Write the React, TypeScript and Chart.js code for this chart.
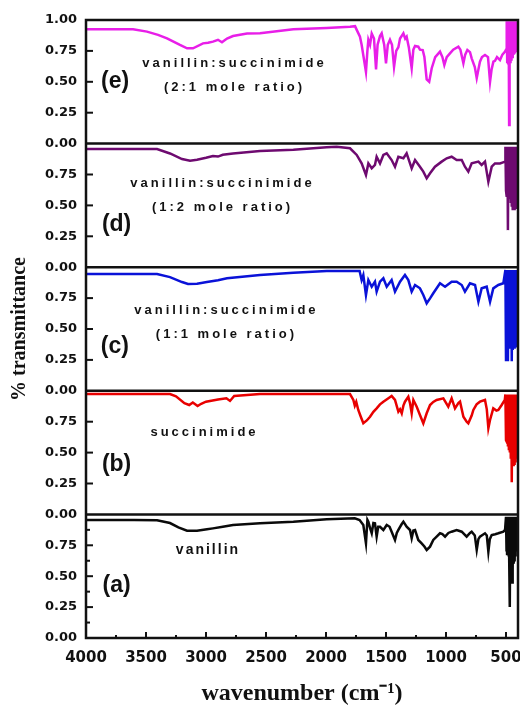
import React, { useEffect, useRef } from "react";
import { Chart, registerables } from "chart.js";

Chart.register(...registerables);

// FTIR spectra, [wavenumber (cm-1), transmittance] pairs, one panel per sample (bottom to top)
const vanillin: [number, number][] = [
  [4000, 0.955], [3600, 0.955], [3408, 0.952], [3300, 0.93], [3230, 0.895], [3158, 0.868], [3075, 0.868],
  [2992, 0.88], [2942, 0.887], [2860, 0.9], [2775, 0.914], [2550, 0.928], [2272, 0.941], [1994, 0.96],
  [1760, 0.968], [1720, 0.955], [1689, 0.914], [1667, 0.766], [1655, 0.955], [1647, 0.94], [1630, 0.88],
  [1619, 0.847], [1605, 0.93], [1592, 0.928], [1578, 0.82], [1565, 0.9], [1550, 0.9], [1522, 0.874],
  [1494, 0.914], [1470, 0.9], [1453, 0.86], [1425, 0.793], [1410, 0.85], [1397, 0.874], [1370, 0.92],
  [1355, 0.941], [1328, 0.9], [1300, 0.874], [1286, 0.807], [1272, 0.87], [1258, 0.874], [1231, 0.793],
  [1203, 0.766], [1180, 0.74], [1161, 0.712], [1133, 0.739], [1106, 0.793], [1078, 0.82], [1050, 0.847],
  [1030, 0.84], [1008, 0.82], [980, 0.85], [953, 0.86], [911, 0.874], [869, 0.86], [828, 0.82], [800, 0.85],
  [786, 0.86], [760, 0.83], [744, 0.712], [730, 0.8], [717, 0.82], [675, 0.847], [660, 0.83], [647, 0.698],
  [635, 0.8], [619, 0.833], [590, 0.84], [564, 0.847], [522, 0.86], [508, 0.874],
  [500, 0.98], [497, 0.7], [494, 0.98], [491, 0.68], [488, 0.98], [485, 0.69], [482, 0.98], [479, 0.66],
  [476, 0.98], [473, 0.6], [470, 0.98], [467, 0.25], [464, 0.98], [461, 0.47], [458, 0.98], [455, 0.5],
  [452, 0.98], [449, 0.45], [446, 0.98], [443, 0.55], [440, 0.98], [436, 0.6], [432, 0.98], [428, 0.62],
  [424, 0.98], [420, 0.66], [416, 0.98], [412, 0.7], [408, 0.98], [404, 0.72], [400, 0.98],
];

const succinimide: [number, number][] = [
  [4000, 0.974], [3300, 0.974], [3250, 0.955], [3180, 0.9], [3140, 0.885], [3110, 0.905], [3070, 0.877],
  [3040, 0.895], [3000, 0.912], [2900, 0.93], [2830, 0.939], [2800, 0.918], [2765, 0.958], [2550, 0.974],
  [1800, 0.974], [1772, 0.926], [1760, 0.88], [1748, 0.91], [1731, 0.845], [1710, 0.79], [1689, 0.737],
  [1660, 0.76], [1633, 0.79], [1605, 0.83], [1578, 0.858], [1550, 0.89], [1522, 0.912], [1480, 0.94],
  [1453, 0.958], [1425, 0.926], [1397, 0.831], [1383, 0.85], [1369, 0.818], [1355, 0.88], [1342, 0.912],
  [1314, 0.952], [1300, 0.9], [1286, 0.818], [1272, 0.926], [1244, 0.871], [1217, 0.804], [1189, 0.737],
  [1161, 0.818], [1133, 0.885], [1106, 0.91], [1078, 0.926], [1022, 0.939], [981, 0.871], [953, 0.939],
  [925, 0.858], [897, 0.9], [883, 0.912], [855, 0.79], [828, 0.75], [814, 0.737], [786, 0.8], [772, 0.845],
  [745, 0.89], [717, 0.912], [675, 0.926], [660, 0.85], [647, 0.697], [633, 0.764], [606, 0.858],
  [580, 0.84], [564, 0.845], [536, 0.885], [510, 0.926],
  [505, 0.97], [500, 0.6], [496, 0.97], [492, 0.588], [488, 0.97], [484, 0.55], [480, 0.97], [476, 0.52],
  [472, 0.97], [468, 0.5], [464, 0.97], [460, 0.45], [456, 0.97], [452, 0.26], [448, 0.97], [444, 0.4],
  [440, 0.97], [436, 0.39], [432, 0.97], [428, 0.4], [424, 0.97], [420, 0.42], [416, 0.97], [412, 0.45],
  [408, 0.97], [404, 0.48], [400, 0.97],
];

const ratio11: [number, number][] = [
  [4000, 0.945], [3408, 0.945], [3300, 0.92], [3200, 0.88], [3150, 0.864], [3075, 0.866], [2992, 0.88],
  [2900, 0.895], [2825, 0.91], [2550, 0.937], [2272, 0.956], [1994, 0.969], [1720, 0.969], [1703, 0.896],
  [1689, 0.937], [1667, 0.775], [1647, 0.896], [1619, 0.842], [1592, 0.883], [1578, 0.802], [1550, 0.883],
  [1522, 0.91], [1494, 0.842], [1453, 0.896], [1425, 0.802], [1383, 0.883], [1342, 0.937], [1314, 0.896],
  [1286, 0.802], [1258, 0.856], [1217, 0.829], [1189, 0.775], [1161, 0.708], [1133, 0.748], [1106, 0.789],
  [1050, 0.87], [1008, 0.842], [953, 0.883], [911, 0.883], [869, 0.856], [842, 0.802], [800, 0.87],
  [758, 0.856], [730, 0.721], [703, 0.829], [661, 0.842], [633, 0.721], [606, 0.829], [564, 0.856],
  [522, 0.87],
  [505, 0.977], [500, 0.25], [496, 0.977], [492, 0.4], [488, 0.977], [484, 0.24], [480, 0.977], [476, 0.36],
  [472, 0.977], [468, 0.34], [464, 0.977], [460, 0.36], [456, 0.977], [452, 0.24], [448, 0.977], [444, 0.33],
  [440, 0.977], [436, 0.35], [432, 0.977], [428, 0.34], [424, 0.977], [420, 0.36], [416, 0.977], [412, 0.35],
  [408, 0.977], [404, 0.38], [400, 0.977],
];

const ratio12: [number, number][] = [
  [4000, 0.956], [3408, 0.956], [3300, 0.92], [3200, 0.875], [3133, 0.862], [3075, 0.87], [3000, 0.885],
  [2942, 0.9], [2900, 0.895], [2860, 0.91], [2775, 0.92], [2550, 0.94], [2272, 0.95], [1994, 0.97],
  [1911, 0.975], [1800, 0.962], [1744, 0.908], [1703, 0.84], [1667, 0.746], [1647, 0.84], [1619, 0.8],
  [1592, 0.827], [1578, 0.894], [1550, 0.84], [1522, 0.908], [1494, 0.921], [1453, 0.867], [1425, 0.813],
  [1397, 0.894], [1355, 0.881], [1328, 0.921], [1300, 0.84], [1286, 0.8], [1258, 0.867], [1217, 0.813],
  [1189, 0.773], [1161, 0.719], [1133, 0.76], [1092, 0.813], [1036, 0.854], [994, 0.881], [953, 0.894],
  [911, 0.867], [869, 0.867], [842, 0.813], [814, 0.773], [786, 0.84], [730, 0.854], [703, 0.827],
  [675, 0.854], [647, 0.692], [619, 0.813], [592, 0.84], [550, 0.84], [508, 0.854],
  [505, 0.975], [500, 0.62], [496, 0.975], [492, 0.57], [488, 0.975], [484, 0.3], [480, 0.975], [476, 0.56],
  [472, 0.975], [468, 0.55], [464, 0.975], [460, 0.52], [456, 0.975], [452, 0.49], [448, 0.975], [444, 0.46],
  [440, 0.975], [436, 0.47], [432, 0.975], [428, 0.46], [424, 0.975], [420, 0.48], [416, 0.975], [412, 0.47],
  [408, 0.975], [404, 0.5], [400, 0.975],
];

const ratio21: [number, number][] = [
  [4000, 0.925], [3608, 0.925], [3492, 0.906], [3400, 0.88], [3325, 0.852], [3217, 0.798], [3158, 0.771],
  [3108, 0.771], [3025, 0.811], [2983, 0.816], [2942, 0.825], [2900, 0.84], [2867, 0.82], [2825, 0.85],
  [2775, 0.87], [2658, 0.89], [2550, 0.892], [2272, 0.925], [1994, 0.935], [1800, 0.946], [1758, 0.95],
  [1744, 0.92], [1717, 0.865], [1703, 0.8], [1667, 0.58], [1655, 0.75], [1647, 0.84], [1633, 0.8],
  [1619, 0.89], [1600, 0.85], [1583, 0.6], [1570, 0.8], [1550, 0.87], [1536, 0.892], [1515, 0.8],
  [1500, 0.65], [1485, 0.8], [1467, 0.84], [1450, 0.8], [1433, 0.62], [1415, 0.75], [1397, 0.78],
  [1383, 0.85], [1355, 0.892], [1340, 0.85], [1328, 0.865], [1310, 0.78], [1286, 0.61], [1272, 0.76],
  [1258, 0.79], [1231, 0.784], [1217, 0.76], [1194, 0.757], [1180, 0.7], [1161, 0.52], [1140, 0.5],
  [1119, 0.61], [1090, 0.7], [1050, 0.744], [1030, 0.7], [1014, 0.636], [994, 0.7], [967, 0.73],
  [940, 0.76], [897, 0.784], [880, 0.76], [855, 0.65], [840, 0.72], [822, 0.757], [800, 0.74], [786, 0.69],
  [760, 0.62], [744, 0.53], [730, 0.6], [717, 0.663], [700, 0.7], [675, 0.717], [650, 0.7], [633, 0.5],
  [620, 0.6], [605, 0.663], [592, 0.67], [575, 0.7], [550, 0.676], [530, 0.72], [508, 0.744],
  [500, 0.76], [494, 0.99], [490, 0.66], [486, 0.99], [482, 0.65], [478, 0.99], [474, 0.15], [470, 0.99],
  [466, 0.66], [462, 0.99], [458, 0.68], [454, 0.99], [450, 0.7], [446, 0.99], [442, 0.72], [438, 0.99],
  [434, 0.72], [430, 0.99], [426, 0.73], [422, 0.99], [418, 0.74], [414, 0.99], [410, 0.74], [406, 0.99],
  [402, 0.75], [400, 0.99],
];

// bottom to top
const spectra = [vanillin, succinimide, ratio11, ratio12, ratio21];
const seriesNames = ["vanillin", "succinimide", "vanillin:succinimide (1:1)", "vanillin:succinimide (1:2)", "vanillin:succinimide (2:1)"];
const seriesColors = ["#0a0a0a", "#e80000", "#0a12d8", "#6e0a70", "#e81ee8"];
const panelLetters = ["(a)", "(b)", "(c)", "(d)", "(e)"];
const panelCaptions = [
  ["vanillin"],
  ["succinimide"],
  ["vanillin:succinimide", "(1:1 mole ratio)"],
  ["vanillin:succinimide", "(1:2 mole ratio)"],
  ["vanillin:succinimide", "(2:1 mole ratio)"],
];

const xTickValues = [4000, 3500, 3000, 2500, 2000, 1500, 1000, 500];
const xMinorValues = [3750, 3250, 2750, 2250, 1750, 1250, 750];
const yTickLabels = ["0.00", "0.25", "0.50", "0.75"];
const yTickSteps = [0, 0.25, 0.5, 0.75];
const yMinorSteps = [0.125, 0.375, 0.625, 0.875];

const PANELS = spectra.length;
const INK = "#111";

// caption anchors in data units: [wavenumber, transmittance within panel]
const captionAnchors: [number, number][] = [
  [2992, 0.712],
  [3025, 0.667],
  [2842, 0.654],
  [2875, 0.681],
  [2775, 0.652],
];
const letterAnchors: [number, number][] = [
  [3745, 0.42],
  [3745, 0.4],
  [3760, 0.354],
  [3745, 0.341],
  [3758, 0.498],
];

const panelFrame = {
  id: "panelFrame",
  afterDatasetsDraw(chart: any) {
    const { ctx, chartArea, scales } = chart;
    const { left, right, top, bottom } = chartArea;
    const x = scales.x;
    const y = scales.y;
    const seg = (x1: number, y1: number, x2: number, y2: number) => {
      ctx.beginPath();
      ctx.moveTo(x1, y1);
      ctx.lineTo(x2, y2);
      ctx.stroke();
    };
    ctx.save();
    ctx.strokeStyle = INK;
    ctx.lineWidth = 2.5;
    ctx.strokeRect(left, top, right - left, bottom - top);
    for (let k = 1; k < PANELS; k++) {
      const py = y.getPixelForValue(k);
      seg(left, py, right, py);
    }
    ctx.lineWidth = 2;
    for (let k = 0; k < PANELS; k++) {
      yTickSteps.forEach((s) => {
        if (s === 0) return;
        const py = y.getPixelForValue(k + s);
        seg(left, py, left + 7, py);
      });
    }
    yMinorSteps.forEach((s) => {
      const py = y.getPixelForValue(s);
      seg(left, py, left + 4, py);
    });
    xTickValues.forEach((v) => {
      const px = x.getPixelForValue(v);
      seg(px, bottom, px, bottom - 6);
    });
    xMinorValues.forEach((v) => {
      const px = x.getPixelForValue(v);
      seg(px, bottom, px, bottom - 3);
    });
    ctx.restore();
  },
};

const panelNotes = {
  id: "panelNotes",
  afterDatasetsDraw(chart: any) {
    const { ctx, scales } = chart;
    const x = scales.x;
    const y = scales.y;
    ctx.save();
    ctx.fillStyle = INK;
    ctx.textAlign = "center";
    ctx.textBaseline = "middle";
    for (let k = 0; k < PANELS; k++) {
      const [wn, t] = captionAnchors[k];
      const cx = x.getPixelForValue(wn);
      const cy = y.getPixelForValue(k + t);
      const lines = panelCaptions[k];
      const spacing = k === 0 ? 2 : 3;
      ctx.font = k === 0 ? "bold 14px 'Liberation Sans', Arial, sans-serif" : "bold 13px 'Liberation Sans', Arial, sans-serif";
      (ctx as any).letterSpacing = spacing + "px";
      lines.forEach((line, i) => {
        ctx.fillText(line, cx + spacing / 2, cy + i * 24);
      });
      (ctx as any).letterSpacing = "0px";
      const [lw, lt] = letterAnchors[k];
      ctx.font = "bold 23px 'Liberation Sans', Arial, sans-serif";
      ctx.fillText(panelLetters[k], x.getPixelForValue(lw), y.getPixelForValue(k + lt));
    }
    ctx.restore();
  },
};

export default function App() {
  const canvasRef = useRef<HTMLCanvasElement | null>(null);

  useEffect(() => {
    const canvas = canvasRef.current;
    if (!canvas) return;
    const datasets = spectra.map((points, k) => ({
      label: seriesNames[k],
      data: points.map(([wn, t]) => ({ x: wn, y: k + t })),
      borderColor: seriesColors[k],
      backgroundColor: seriesColors[k],
      borderWidth: 2.5,
      pointRadius: 0,
      tension: 0,
      fill: false,
    }));

    const chart = new Chart(canvas, {
      type: "line",
      data: { datasets },
      plugins: [panelFrame, panelNotes],
      options: {
        animation: false,
        responsive: true,
        maintainAspectRatio: false,
        parsing: false as any,
        layout: { padding: { left: 0, right: 2, top: 20, bottom: 0 } },
        plugins: {
          legend: { display: false },
          tooltip: { enabled: false },
        },
        scales: {
          x: {
            type: "linear",
            reverse: true,
            min: 400,
            max: 4000,
            grid: { display: false, drawTicks: false },
            border: { display: false },
            afterBuildTicks: (scale: any) => {
              scale.ticks = xTickValues.map((v) => ({ value: v }));
            },
            afterFit: (scale: any) => {
              scale.height = 68;
              // let the end labels overhang the plot edges
              scale.paddingLeft = 0;
              scale.paddingRight = 0;
            },
            ticks: {
              color: INK,
              padding: 11,
              maxRotation: 0,
              autoSkip: false,
              font: { family: "'DejaVu Sans', sans-serif", weight: "bold", size: 15 },
              callback: (v: any) => String(v),
            },
            title: {
              display: true,
              text: "wavenumber (cm\u207B\u00B9)",
              color: INK,
              font: { family: "'Liberation Serif', 'Times New Roman', serif", weight: "bold", size: 24, lineHeight: 1 },
              padding: { top: 0, bottom: 0 },
            },
          },
          y: {
            type: "linear",
            min: 0,
            max: PANELS,
            grid: { display: false, drawTicks: false },
            border: { display: false },
            afterBuildTicks: (scale: any) => {
              const ticks: { value: number }[] = [];
              for (let k = 0; k < PANELS; k++) {
                yTickSteps.forEach((s) => ticks.push({ value: k + s }));
              }
              ticks.push({ value: PANELS });
              scale.ticks = ticks;
            },
            afterFit: (scale: any) => {
              scale.width = 86;
              scale.paddingTop = 0;
              scale.paddingBottom = 0;
            },
            ticks: {
              color: INK,
              padding: 9,
              autoSkip: false,
              font: { family: "'DejaVu Sans', sans-serif", weight: "bold", size: 13 },
              callback: (v: any) => {
                const val = Number(v);
                if (val >= PANELS) return "1.00";
                const idx = Math.round((val - Math.floor(val)) / 0.25);
                return yTickLabels[idx];
              },
            },
            title: {
              display: true,
              text: "% transmittance",
              color: INK,
              font: { family: "'Liberation Serif', 'Times New Roman', serif", weight: "bold", size: 20, lineHeight: 1 },
              padding: { top: 10, bottom: 0 },
            },
          },
        },
      },
    });
    return () => chart.destroy();
  }, []);

  return (
    <div style={{ position: "absolute", left: 0, top: 0, width: 520, height: 706, background: "#fff" }}>
      <canvas ref={canvasRef} />
    </div>
  );
}
